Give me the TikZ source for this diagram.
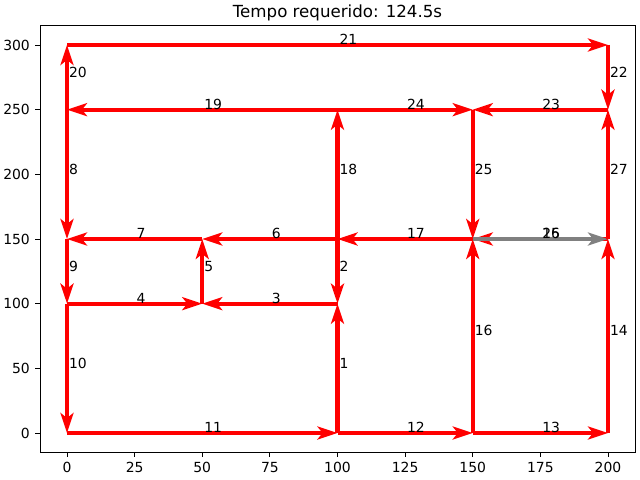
\documentclass[tikz,border=0pt]{standalone}
\usepackage{fontspec}
\setmainfont{DejaVu Sans}
\usetikzlibrary{arrows.meta}

\begin{document}
\begin{tikzpicture}[
  x=0.067625cm, y=0.032333cm,
  edge/.style={->, draw=red, line width=2.85pt},
  edgegray/.style={edge, draw=gray},
  lbl/.style={font=\fontsize{9.9}{11}\selectfont, inner sep=0pt, anchor=base west},
  ticklbl/.style={font=\fontsize{9.9}{11}\selectfont, inner sep=0pt},
  axis/.style={line width=0.57pt},
  >={Stealth[length=14.2pt, width=9.2pt, inset=3.6pt]}]
  \useasboundingbox (-24.77,-36.34) rectangle (211.83,334.8);
  % axes frame, ticks and title
  \draw[axis] (-10,-15) rectangle (210,315);
  \foreach \v in {0,25,...,200}
    \draw[axis] (\v,-15) -- ++(0,-3.46pt) node[ticklbl, anchor=north, yshift=-3.46pt] (xt\v) {\v};
  \foreach \v in {0,50,...,300}
    \draw[axis] (-10,\v) -- ++(-3.46pt,0) node[ticklbl, anchor=east, xshift=-3.46pt] (yt\v) {\v};
  \node[font=\fontsize{11.85}{14}\selectfont, inner sep=0pt, anchor=base, yshift=5.9pt] (title) at (100,315) {Tempo requerido: 124.5s};
  % junctions
  \coordinate (p0-0)     at (0,0);
  \coordinate (p100-0)   at (100,0);
  \coordinate (p150-0)   at (150,0);
  \coordinate (p200-0)   at (200,0);
  \coordinate (p0-100)   at (0,100);
  \coordinate (p50-100)  at (50,100);
  \coordinate (p100-100) at (100,100);
  \coordinate (p0-150)   at (0,150);
  \coordinate (p50-150)  at (50,150);
  \coordinate (p100-150) at (100,150);
  \coordinate (p150-150) at (150,150);
  \coordinate (p200-150) at (200,150);
  \coordinate (p0-250)   at (0,250);
  \coordinate (p100-250) at (100,250);
  \coordinate (p150-250) at (150,250);
  \coordinate (p200-250) at (200,250);
  \coordinate (p0-300)   at (0,300);
  \coordinate (p200-300) at (200,300);
  % edges of the route
  \draw[edge] (p100-0) -- node[lbl] {1} (p100-100);
  \draw[edge] (p100-150) -- node[lbl] {2} (p100-100);
  \draw[edge] (p100-100) -- node[lbl] {3} (p50-100);
  \draw[edge] (p0-100) -- node[lbl] {4} (p50-100);
  \draw[edge] (p50-100) -- node[lbl] {5} (p50-150);
  \draw[edge] (p100-150) -- node[lbl] {6} (p50-150);
  \draw[edge] (p50-150) -- node[lbl] {7} (p0-150);
  \draw[edge] (p0-250) -- node[lbl] {8} (p0-150);
  \draw[edge] (p0-150) -- node[lbl] {9} (p0-100);
  \draw[edge] (p0-100) -- node[lbl] {10} (p0-0);
  \draw[edge] (p0-0) -- node[lbl] {11} (p100-0);
  \draw[edge] (p100-0) -- node[lbl] {12} (p150-0);
  \draw[edge] (p150-0) -- node[lbl] {13} (p200-0);
  \draw[edge] (p200-0) -- node[lbl] {14} (p200-150);
  \draw[edge] (p200-150) -- node[lbl] {15} (p150-150);
  \draw[edge] (p150-0) -- node[lbl] {16} (p150-150);
  \draw[edge] (p150-150) -- node[lbl] {17} (p100-150);
  \draw[edge] (p100-150) -- node[lbl] {18} (p100-250);
  \draw[edge] (p100-250) -- node[lbl] {19} (p0-250);
  \draw[edge] (p0-250) -- node[lbl] {20} (p0-300);
  \draw[edge] (p0-300) -- node[lbl] {21} (p200-300);
  \draw[edge] (p200-300) -- node[lbl] {22} (p200-250);
  \draw[edge] (p200-250) -- node[lbl] {23} (p150-250);
  \draw[edge] (p100-250) -- node[lbl] {24} (p150-250);
  \draw[edge] (p150-250) -- node[lbl] {25} (p150-150);
  \draw[edgegray] (p150-150) -- node[lbl] {26} (p200-150);
  \draw[edge] (p200-150) -- node[lbl] {27} (p200-250);
\end{tikzpicture}
\end{document}
